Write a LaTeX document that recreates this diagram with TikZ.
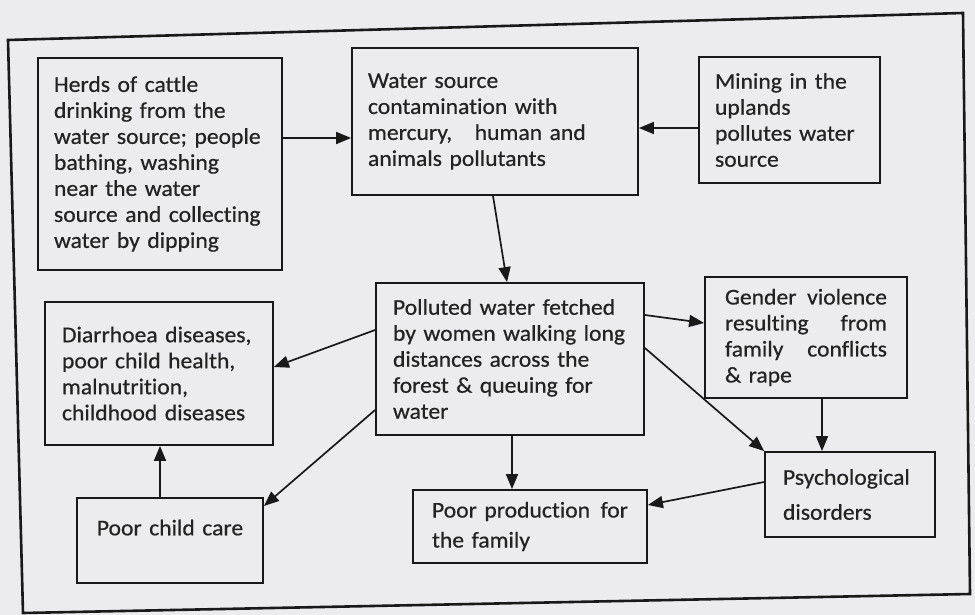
\documentclass[tikz,border=0pt]{standalone}
\usepackage{fontspec}
\setmainfont{Carlito}[FakeStretch=1.05,FakeBold=0.6,Ligatures={NoCommon}]
\usetikzlibrary{arrows.meta}
\definecolor{paper}{RGB}{236,236,238}
\definecolor{ink}{RGB}{25,25,25}
\definecolor{txt}{RGB}{35,35,35}
\tikzset{
  box/.style={draw=ink, line width=1.8pt, rectangle, align=left, inner ysep=2pt,
    font=\fontsize{22.5}{26}\selectfont, text=txt},
  arr/.style={draw=ink, line width=1.7pt, -{Triangle[length=15pt,width=12pt]}},
  frameline/.style={draw=ink, line width=2.6pt}
}
\newcommand{\jl}[3]{\makebox[#1][l]{#2\hfill#3}}
\begin{document}
\begin{tikzpicture}[x=1pt,y=-1pt]
\useasboundingbox (0,0) rectangle (975,615);
\fill[paper] (0,0) rectangle (975,615);
\draw[frameline] (8,40) -- (963,13) -- (970,594) -- (23,613) -- cycle;

\node[box, minimum width=244pt, minimum height=212pt, text width=212pt, inner xsep=16pt] (herds) at (160,164)
 {Herds of cattle\\drinking from the\\water source; people\\bathing, washing\\near the water\\source and collecting\\water by dipping};
\node[box, minimum width=286pt, minimum height=147pt, text width=254pt, inner xsep=16pt] (ws) at (495,121.5)
 {Water source\\contamination with\\mercury,\ \ \ human and\\animals pollutants};
\node[box, minimum width=181pt, minimum height=126pt, text width=149pt, inner xsep=16pt] (mining) at (789.5,120)
 {Mining in the\\uplands\\pollutes water\\source};
\node[box, minimum width=268pt, minimum height=152pt, text width=234pt, inner xsep=17pt] (poll) at (510,359)
 {Polluted water fetched\\by women walking long\\distances across the\\forest \& queuing for\\water};
\node[box, minimum width=202pt, minimum height=121pt, text width=162pt, inner xsep=20pt] (gender) at (806,337.5)
 {\jl{162pt}{Gender}{violence}\\\jl{162pt}{resulting}{from}\\\jl{162pt}{family}{conflicts}\\\& rape};
\node[box, minimum width=228pt, minimum height=143pt, text width=194pt, inner xsep=17pt] (diar) at (159,373.5)
 {Diarrhoea diseases,\\poor child health,\\malnutrition,\\childhood diseases};
\node[box, minimum width=186pt, minimum height=85pt, text width=150pt, inner xsep=18pt, align=center] (care) at (170,540.5)
 {Poor child care\\\mbox{}};
\node[box, minimum width=234pt, minimum height=73pt, text width=196pt, inner xsep=19pt] (prod) at (530,526.5)
 {\jl{196pt}{Poor production}{for}\\[4pt]the family};
\node[box, minimum width=170pt, minimum height=85pt, text width=134pt, inner xsep=18pt] (psych) at (850,494.5)
 {Psychological\\[9pt]disorders};

\draw[arr] (herds.east |- 0,138) -- (ws.west |- 0,138);
\draw[arr] (mining.west |- 0,128) -- (ws.east |- 0,128);
\draw[arr] (ws.south -| 493,0) -- (poll.north -| 507,0);
\draw[arr] (poll.west |- 0,330) -- (diar.east |- 0,367);
\draw[arr] (poll.west |- 0,410) -- (care.east |- 0,506);
\draw[arr] (care.north -| 160,0) -- (diar.south -| 160,0);
\draw[arr] (poll.south -| 512,0) -- (prod.north -| 512,0);
\draw[arr] (poll.east |- 0,315) -- (gender.west |- 0,323);
\draw[arr] (poll.east |- 0,348) -- (psych.north west);
\draw[arr] (gender.south -| 822,0) -- (psych.north -| 822,0);
\draw[arr] (psych.west |- 0,482) -- (prod.east |- 0,505);
\end{tikzpicture}
\end{document}
